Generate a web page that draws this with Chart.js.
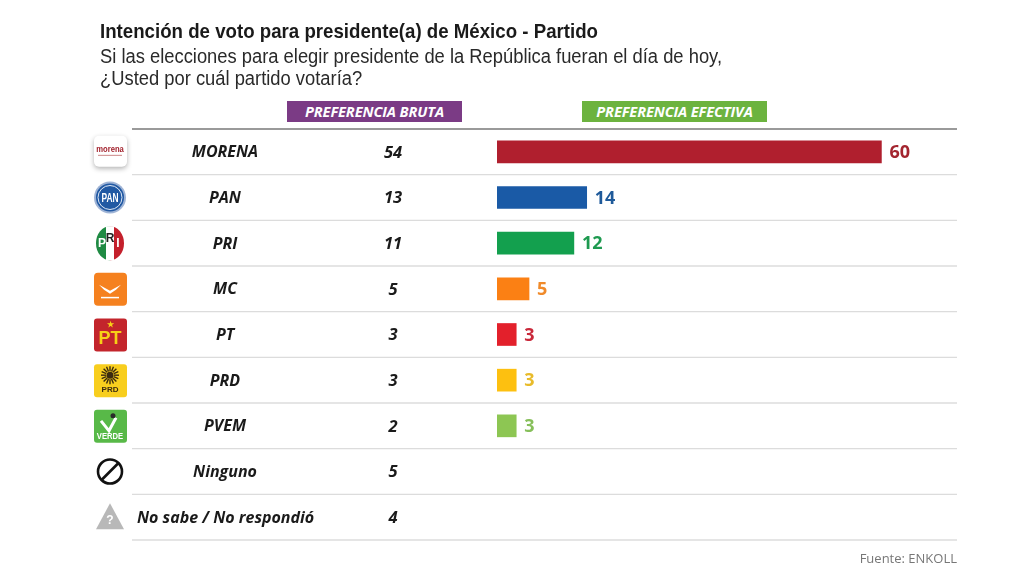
<!DOCTYPE html>
<html><head><meta charset="utf-8">
<script src="https://cdn.jsdelivr.net/npm/chart.js@4"></script>
<style>
html,body{margin:0;padding:0;background:#fff;}
#wrap{position:relative;width:1024px;height:576px;overflow:hidden;}
canvas{position:absolute;left:0;top:0;}
.t{position:absolute;white-space:nowrap;color:#222;}
.badge{position:absolute;top:101px;height:21px;color:#fff;font:italic bold 14.6px/21px "Open Sans",sans-serif;text-align:center;letter-spacing:-0.1px;}
#b1{left:287px;width:175px;background:#7b3b85;}
#b2{left:582px;width:185px;background:#6cb33f;}
#src{right:67px;top:549px;font:13px "Open Sans",sans-serif;color:#777;}
</style></head>
<body><div id="wrap">
<canvas id="c" width="1024" height="576"></canvas>
<div class="badge" id="b1">PREFERENCIA BRUTA</div>
<div class="badge" id="b2">PREFERENCIA EFECTIVA</div>
<div class="t" id="src">Fuente: ENKOLL</div>
</div>
<script>
const titleText = "Intención de voto para presidente(a) de México - Partido";
const subtitleLines = ["Si las elecciones para elegir presidente de la República fueran el día de hoy,","¿Usted por cuál partido votaría?"];
const categories = ["MORENA","PAN","PRI","MC","PT","PRD","PVEM","Ninguno","No sabe / No respondió"];
const bruta = [54,13,11,5,3,3,2,5,4];
const efectiva = [60,14,12,5,3,3,3,null,null];
const barColors = ["#b01f2e","#1a5aa6","#13a04e","#fb8014","#e3202b","#fdc010","#8dc653",null,null];
const labelColors = ["#a3252f","#1f5a9a","#1e9a50","#f08a2a","#c9283a","#e8bb2a","#86bf5a",null,null];

function rr(ctx,x,y,w,h,r){ctx.beginPath();ctx.moveTo(x+r,y);ctx.arcTo(x+w,y,x+w,y+h,r);ctx.arcTo(x+w,y+h,x,y+h,r);ctx.arcTo(x,y+h,x,y,r);ctx.arcTo(x,y,x+w,y,r);ctx.closePath();}

function fitText(ctx,text,x,y,font,targetW,color){
  ctx.save();ctx.font=font;ctx.fillStyle=color;ctx.textAlign='left';ctx.textBaseline='alphabetic';
  const w=ctx.measureText(text).width;const s=targetW?targetW/w:1;
  ctx.translate(x,y);ctx.scale(s,1);ctx.fillText(text,0,0);ctx.restore();return s;
}

function drawLogo(ctx,i,cx,cy){
  ctx.save();
  ctx.textAlign='center';ctx.textBaseline='middle';
  if(i===0){ // MORENA
    ctx.shadowColor='rgba(0,0,0,0.3)';ctx.shadowBlur=5;ctx.shadowOffsetY=2;
    ctx.fillStyle='#fff';rr(ctx,cx-16,cy-16,33,31,5);ctx.fill();
    ctx.shadowColor='transparent';
    ctx.fillStyle='#a3232e';ctx.font='bold 9px "Liberation Sans",sans-serif';
    ctx.save();ctx.translate(cx,cy-2);ctx.scale(0.85,1);ctx.fillText('morena',0,0);ctx.restore();
    ctx.fillStyle='#c88';ctx.fillRect(cx-12,cy+3,24,1);
  } else if(i===1){ // PAN
    ctx.fillStyle='#9fb4d6';ctx.beginPath();ctx.arc(cx,cy,16,0,Math.PI*2);ctx.fill();
    ctx.fillStyle='#2159a3';ctx.beginPath();ctx.arc(cx,cy,14,0,Math.PI*2);ctx.fill();
    ctx.strokeStyle='#dfe8f5';ctx.lineWidth=1;ctx.beginPath();ctx.arc(cx,cy,12,0,Math.PI*2);ctx.stroke();
    ctx.fillStyle='#fff';ctx.font='bold 12px "Liberation Sans",sans-serif';
    ctx.save();ctx.translate(cx,cy+1);ctx.scale(0.7,1.1);ctx.fillText('PAN',0,0);ctx.restore();
  } else if(i===2){ // PRI
    ctx.fillStyle='#1f8a43';ctx.beginPath();ctx.ellipse(cx,cy,14,17,0,Math.PI/2,Math.PI*1.5);ctx.fill();
    ctx.fillStyle='#c4202c';ctx.beginPath();ctx.ellipse(cx,cy,14,17,0,-Math.PI/2,Math.PI/2);ctx.fill();
    ctx.fillStyle='#fff';ctx.fillRect(cx-4,cy-17,8,34);
    ctx.font='bold 12px "Liberation Sans",sans-serif';
    ctx.fillStyle='#fff';ctx.fillText('P',cx-8,cy+1);ctx.fillText('I',cx+8,cy+1);
    ctx.fillStyle='#222';ctx.fillText('R',cx,cy-4);
  } else if(i===3){ // MC
    ctx.fillStyle='#f5811f';rr(ctx,cx-16,cy-16,33,33,4);ctx.fill();
    ctx.fillStyle='#fff';
    ctx.beginPath();ctx.moveTo(cx-11,cy-4);ctx.lineTo(cx,cy+2);ctx.lineTo(cx+11,cy-4);ctx.lineTo(cx+6,cy+1);ctx.lineTo(cx,cy+5);ctx.lineTo(cx-6,cy+1);ctx.closePath();ctx.fill();
    ctx.fillRect(cx-9,cy+8,18,1.5);
  } else if(i===4){ // PT
    ctx.fillStyle='#c3252c';rr(ctx,cx-16,cy-16,33,33,3);ctx.fill();
    ctx.fillStyle='#f7d117';ctx.font='bold 18px "Liberation Sans",sans-serif';ctx.fillText('PT',cx,cy+5);
    ctx.font='bold 8px sans-serif';ctx.fillText('★',cx,cy-10);
  } else if(i===5){ // PRD
    ctx.fillStyle='#f8ce1e';rr(ctx,cx-16,cy-16,33,33,3);ctx.fill();
    ctx.strokeStyle='#3a2a10';ctx.lineWidth=1.4;
    for(let k=0;k<16;k++){const a=k*Math.PI/8;ctx.beginPath();ctx.moveTo(cx+Math.cos(a)*4,cy-5+Math.sin(a)*4);ctx.lineTo(cx+Math.cos(a)*9,cy-5+Math.sin(a)*9);ctx.stroke();}
    ctx.fillStyle='#3a2a10';ctx.beginPath();ctx.arc(cx,cy-5,3.5,0,Math.PI*2);ctx.fill();
    ctx.font='bold 8px "Liberation Sans",sans-serif';ctx.fillText('PRD',cx,cy+10);
  } else if(i===6){ // PVEM
    ctx.fillStyle='#58b948';rr(ctx,cx-16,cy-16,33,33,3);ctx.fill();
    ctx.strokeStyle='#fff';ctx.lineWidth=3;ctx.beginPath();ctx.moveTo(cx-9,cy-5);ctx.lineTo(cx-1,cy+5);ctx.lineTo(cx+6,cy-8);ctx.stroke();
    ctx.fillStyle='#2a2a2a';ctx.beginPath();ctx.arc(cx+3,cy-10,2.5,0,Math.PI*2);ctx.fill();
    ctx.fillStyle='#fff';ctx.font='bold 8.5px "Liberation Sans",sans-serif';
    ctx.save();ctx.translate(cx,cy+11);ctx.scale(0.9,1);ctx.fillText('VERDE',0,0);ctx.restore();
  } else if(i===7){ // Ninguno
    ctx.strokeStyle='#111';ctx.lineWidth=2.6;ctx.beginPath();ctx.arc(cx,cy,12,0,Math.PI*2);ctx.stroke();
    ctx.beginPath();ctx.moveTo(cx-8,cy+8);ctx.lineTo(cx+8,cy-8);ctx.stroke();
  } else if(i===8){ // No sabe
    ctx.fillStyle='#b8b8b8';ctx.beginPath();ctx.moveTo(cx,cy-14);ctx.lineTo(cx+14,cy+12);ctx.lineTo(cx-14,cy+12);ctx.closePath();ctx.fill();
    ctx.fillStyle='#fff';ctx.font='bold 12px "Liberation Sans",sans-serif';ctx.fillText('?',cx,cy+4);
  }
  ctx.restore();
}

const tablePlugin = {
  id:'table',
  beforeDatasetsDraw(chart){
    const ctx=chart.ctx, ca=chart.chartArea, y=chart.scales.y;
    const pitch=(ca.bottom-ca.top)/categories.length;
    // titles
    fitText(ctx,titleText,100,38,'bold 21px "Liberation Sans",sans-serif',498,'#1a1a1a');
    const s=fitText(ctx,subtitleLines[0],100,63,'19.5px "Liberation Sans",sans-serif',622,'#2a2a2a');
    ctx.save();ctx.font='19.5px "Liberation Sans",sans-serif';ctx.fillStyle='#2a2a2a';ctx.translate(100,85);ctx.scale(s,1);ctx.fillText(subtitleLines[1],0,0);ctx.restore();
    ctx.save();
    // top heavy rule
    ctx.strokeStyle='#9a9a9a';ctx.lineWidth=2;
    ctx.beginPath();ctx.moveTo(132,ca.top);ctx.lineTo(ca.right,ca.top);ctx.stroke();
    ctx.strokeStyle='#dcdcdc';ctx.lineWidth=1.3;
    categories.forEach((c,i)=>{
      const yb=y.getPixelForValue(i)+pitch/2;
      ctx.beginPath();ctx.moveTo(132,yb);ctx.lineTo(ca.right,yb);ctx.stroke();
    });
    // labels and bruta values
    ctx.fillStyle='#1a1a1a';ctx.textBaseline='middle';
    categories.forEach((c,i)=>{
      const yc=y.getPixelForValue(i);
      ctx.font='italic bold 16px "Open Sans",sans-serif';
      if(i===8){ctx.textAlign='left';ctx.fillText(c,137,yc+1);}
      else{ctx.textAlign='center';ctx.fillText(c,225,yc+1);}
      ctx.textAlign='center';ctx.font='italic bold 16.5px "Open Sans",sans-serif';
      ctx.fillText(String(bruta[i]),393,yc+1);
      drawLogo(ctx,i,110,yc);
    });
    ctx.restore();
  },
  afterDatasetsDraw(chart){
    const ctx=chart.ctx, meta=chart.getDatasetMeta(0);
    ctx.save();ctx.textBaseline='middle';ctx.textAlign='left';
    ctx.font='bold 18px "Open Sans",sans-serif';
    meta.data.forEach((el,i)=>{
      if(efectiva[i]==null) return;
      ctx.fillStyle=labelColors[i];
      ctx.fillText(String(efectiva[i]),el.x+8,el.y+1);
    });
    ctx.restore();
  }
};

new Chart(document.getElementById('c'),{
  type:'bar',
  data:{labels:categories,datasets:[{data:efectiva,backgroundColor:barColors,barThickness:22,borderWidth:0}]},
  options:{
    indexAxis:'y',responsive:false,animation:false,devicePixelRatio:1,
    layout:{padding:{left:497,right:67,top:129,bottom:36}},
    plugins:{legend:{display:false},tooltip:{enabled:false},title:{display:false}},
    scales:{
      x:{display:false,min:0,max:71.8},
      y:{display:false,offset:true}
    }
  },
  plugins:[tablePlugin]
});
</script>
</body></html>
